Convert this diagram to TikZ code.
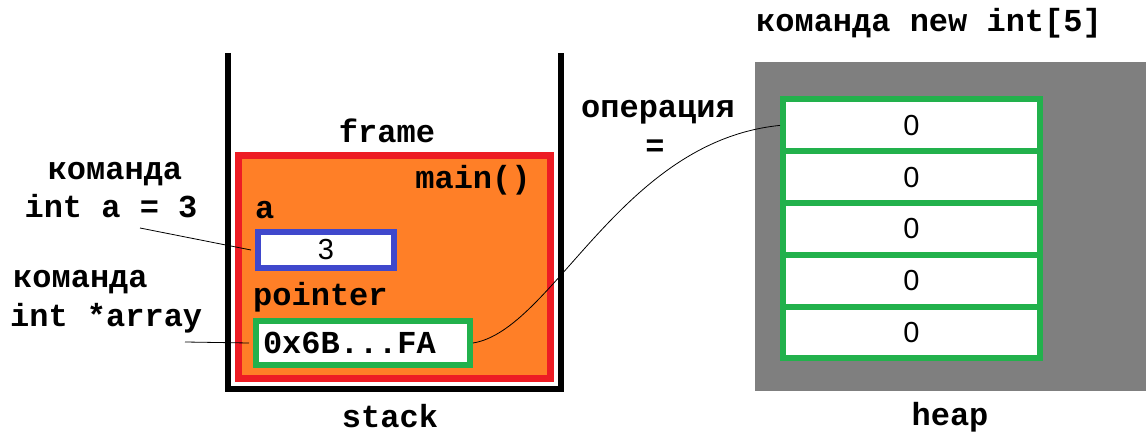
\documentclass[tikz,border=0pt]{standalone}
\usepackage{fontspec}
\setmonofont{Liberation Mono}
\setsansfont{Liberation Sans}
\usetikzlibrary{positioning,calc}
\definecolor{frmred}{HTML}{ED1C24}
\definecolor{frmorange}{HTML}{FF7F27}
\definecolor{varblue}{HTML}{3F48CC}
\definecolor{ptrgreen}{HTML}{22B14C}
\definecolor{heapgray}{HTML}{7F7F7F}

\begin{document}
\begin{tikzpicture}[x=1pt, y=-1pt,
  txt/.style={font=\ttfamily\bfseries\fontsize{32}{38}\selectfont, inner sep=0, anchor=base},
  wall/.style={line width=6.5pt},
  framebox/.style={draw=frmred, line width=7pt, fill=frmorange,
    minimum width=312pt, minimum height=223pt, inner sep=0},
  cell/.style={draw=#1, line width=6pt, fill=white, inner sep=0},
  num/.style={font=\sffamily\fontsize{29}{32}\selectfont},
  link/.style={line width=0.8pt},
]
\useasboundingbox (0,0) rectangle (1146,435);

\draw[wall] (228,53) -- (228,389) -- (561,389) -- (561,53);
\node[framebox] (frame) at (394,267.5) {};
\node[txt] (frmlbl) at (387,143) {frame};
\node[txt] (mainlbl) at (473,189) {main()};
\node[txt, anchor=base west] (alabel) at (255,219) {a};
\node[cell=varblue, num, minimum width=136pt, minimum height=36pt] (avar) at (326,250) {3};
\node[txt, anchor=base west] (plabel) at (253,306) {pointer};
\node[cell=ptrgreen, minimum width=214pt, minimum height=44pt,
  text width=200pt, align=left, font=\ttfamily\bfseries\fontsize{32}{38}\selectfont] (pvar) at (363,343) {0x6B...FA};
\node[txt] (stacklbl) at (390,428) {stack};

\node[txt] (cmdA) at (115,180) {команда};
\node[txt] (declA) at (111,218) {int a = 3};
\node[txt, anchor=base west] (cmdP) at (13,288) {команда};
\node[txt, anchor=base west] (declP) at (10,327) {int *array};

\node[fill=heapgray, minimum width=391pt, minimum height=329pt, inner sep=0, anchor=north west] (heap) at (755,62) {};
\foreach \i in {1,...,5}
  \node[cell=ptrgreen, num, minimum width=257pt, minimum height=51.8pt] (c\i) at (911.5,{125.4+(\i-1)*51.8}) {0};
\node[txt] (newlbl) at (929,32) {команда new int[5]};
\node[txt] (heaplbl) at (950,425) {heap};
\node[txt] (oplbl) at (658,118) {операция};
\node[txt] (eqlbl) at (655,157) {=};

\coordinate (aend) at (140,228);
\coordinate (pend) at (185,342);
\draw[link] (aend) -- ([xshift=-4pt]avar.west);
\draw[link] (pend) -- ([xshift=-4pt]pvar.west);
\draw[link] (pvar.east) .. controls +(80,-13) and +(-160,16) .. (c1.west);
\end{tikzpicture}
\end{document}
